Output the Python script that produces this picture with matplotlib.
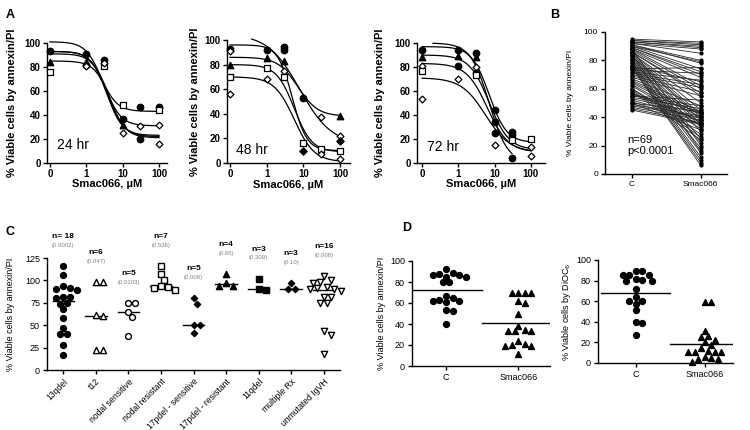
import numpy as np
import matplotlib
matplotlib.use('Agg')
import matplotlib.pyplot as plt

plt.rcParams['font.family'] = ['Liberation Sans', 'DejaVu Sans']

# ---------------- data ----------------
# Panel A: dose-response (dose in uM, 0 = untreated)
a24_dose = [0, 0, 0, 1, 1, 1, 1, 3, 3, 3, 10, 10, 10, 10, 30, 30, 30, 100, 100, 100, 100]
a24_val = [93, 84, 76, 91, 84, 82, 81, 86, 81, 83, 48, 37, 32, 25, 47, 31, 20, 47, 44, 32, 16]
a24_mark = ['o', '^', 's', 'o', '^', 'o', 'D', 'o', 's', 'D', 's', 'o', '^', 'D', 'o', 'D', 'o', 'o', 's', 'D', 'D']
# fitted curves: top, bottom, logEC50, hill, start(log), end(log)
a24_top = [101, 93, 93, 91, 85]
a24_bottom = [43, 31, 23, 22, 21]
a24_logec = [0.40, 0.53, 0.56, 0.60, 0.66]
a24_hill = [2.0, 2.0, 2.0, 2.0, 2.0]
a24_start = [-1, -1, -1, -1, -1]
a24_end = [2, 2, 2, 2, 2]

a48_dose = [0, 0, 0, 0, 0, 1, 1, 1, 1, 3, 3, 3, 3, 3, 10, 10, 10, 30, 30, 30, 100, 100, 100, 100, 100]
a48_val = [93, 91, 80, 70, 56, 92, 85, 77, 68, 94, 92, 83, 75, 70, 53, 16, 10, 37, 11, 7, 38, 22, 18, 10, 3]
a48_mark = ['o', 'D', '^', 's', 'D', 'o', '^', 's', 'D', 'o', 'o', '^', 'D', 's', 'o', 's', 'd', 'D', 's', 'D', '^', 'D', 'd', 's', 'D']
a48_top = [105, 96, 86, 80, 70]
a48_bottom = [15, 10, 38, 9, 1]
a48_logec = [0.90, 0.70, 0.85, 0.75, 0.75]
a48_hill = [1.0, 2.2, 1.6, 1.8, 1.6]
a48_start = [-0.41, -1, -1, -1, -1]
a48_end = [2, 2, 2, 2, 2]

a72_dose = [0, 0, 0, 0, 0, 1, 1, 1, 1, 3, 3, 3, 3, 3, 10, 10, 10, 10, 30, 30, 30, 30, 100, 100, 100]
a72_val = [94, 88, 81, 77, 53, 94, 89, 81, 70, 92, 88, 80, 75, 73, 44, 34, 25, 15, 26, 23, 19, 4, 20, 13, 6]
a72_mark = ['o', '^', 'D', 's', 'D', 'o', '^', 'o', 'D', 'o', '^', 'D', 'o', 's', 'o', 'o', 'o', 'D', 'o', 'o', 's', 'o', 's', 'D', 'D']
a72_top = [100, 97, 90, 83, 71]
a72_bottom = [0, 17, 11, 9, 9]
a72_logec = [0.85, 0.85, 0.85, 0.80, 0.75]
a72_hill = [1.7, 1.8, 1.6, 1.5, 1.3]
a72_start = [-0.70, -1, -1, -1, -1]
a72_end = [1.48, 2, 2, 2, 2]

a_ticklabels = ['0', '1', '10', '100']

# Panel B: paired control vs Smac066 (n=69)
b_control = [95, 94, 94, 93, 93, 92, 92, 91, 91, 90,
             90, 89, 89, 88, 88, 87, 86, 86, 85, 85,
             84, 83, 83, 82, 81, 80, 80, 79, 78, 78,
             77, 76, 75, 75, 74, 73, 72, 71, 70, 69,
             68, 67, 66, 65, 64, 63, 62, 60, 60, 59,
             58, 57, 56, 55, 55, 54, 53, 52, 51, 50,
             50, 49, 48, 47, 46, 45, 88, 84, 76]
b_smac = [93, 92, 91, 90, 89, 88, 85, 80, 78, 79,
          74, 72, 70, 68, 62, 60, 57, 55, 50, 45,
          42, 40, 38, 35, 33, 30, 25, 22, 18, 15,
          12, 10, 8, 6, 75, 71, 66, 63, 61, 58,
          55, 48, 44, 42, 40, 36, 34, 32, 28, 26,
          24, 37, 44, 48, 52, 46, 43, 39, 35, 31,
          44, 41, 40, 38, 36, 35, 20, 16, 65]
b_categories = ['C', 'Smac066']

# Panel C: subgroups
c_categories = ['13qdel', 't12', 'nodal sensitive', 'nodal resistant',
                '17pdel - sensitive', '17pdel - resistant', '11qdel',
                'multiple Rx', 'unmutated IgVH']
c_13qdel = [116, 106, 91, 90, 89, 94, 81, 80, 82, 74, 75, 68, 58, 47, 40, 40, 28, 17]
c_t12 = [98, 98, 61, 60, 22, 22]
c_nodal_sens = [75, 75, 65, 59, 38]
c_nodal_res = [116, 107, 100, 94, 93, 92, 89]
c_17p_sens = [74, 80, 50, 50, 41]
c_17p_res = [107, 97, 94, 94]
c_11qdel = [102, 89, 90]
c_multiple = [97, 90, 90]
c_unmutated = [105, 101, 98, 97, 93, 90, 91, 90, 88, 82, 81, 75, 75, 43, 39, 18]
c_n_labels = ['n= 18', 'n=6', 'n=5', 'n=7', 'n=5', 'n=4', 'n=3', 'n=3', 'n=16']
c_p_labels = ['(0.0002)', '(0.047)', '(0.0103)', '(0.536)', '(0.008)', '(0.65)', '(0.309)', '(0.10)', '(0.008)']

# Panel D
d1_control = [92, 85, 88, 87, 85, 87, 89, 80, 80, 65, 62, 61, 62, 63, 67, 53, 52, 40]
d1_smac = [70, 70, 70, 70, 62, 60, 50, 38, 34, 33, 33, 33, 24, 20, 19, 19, 21, 11]
d2_control = [85, 82, 80, 80, 81, 89, 89, 85, 85, 72, 64, 60, 57, 60, 51, 40, 39, 27]
d2_smac = [59, 59, 31, 26, 25, 22, 20, 17, 15, 12, 11, 11, 11, 11, 6, 5, 4, 4, 1]
d_categories = ['C', 'Smac066']

# ---------------- figure ----------------
W, H = 750, 430
fig = plt.figure(figsize=(7.5, 4.3), dpi=100)


def ax_px(l, t, r, b):
    return fig.add_axes([l / W, 1 - b / H, (r - l) / W, (b - t) / H])


def style(ax, fs, bold=False, pad=2):
    for s in ['top', 'right']:
        ax.spines[s].set_visible(False)
    for s in ['left', 'bottom']:
        ax.spines[s].set_linewidth(1.0)
    ax.tick_params(direction='out', length=3, width=1, labelsize=fs, pad=pad)
    if bold:
        for lab in ax.get_xticklabels() + ax.get_yticklabels():
            lab.set_fontweight('bold')


def logpos(d):
    d = np.asarray(d, dtype=float)
    out = np.full(d.shape, -1.0)
    m = d > 0
    out[m] = np.log10(d[m])
    return out


def mk_style(m):
    if m == 'o':
        return dict(marker='o', s=22, facecolor='black', edgecolor='black')
    if m == '^':
        return dict(marker='^', s=22, facecolor='black', edgecolor='black')
    if m == 's':
        return dict(marker='s', s=20, facecolor='white', edgecolor='black')
    if m == 'D':
        return dict(marker='D', s=12, facecolor='white', edgecolor='black')
    if m == 'd':
        return dict(marker='D', s=14, facecolor='black', edgecolor='black')
    return dict(marker=m, s=20, facecolor='black', edgecolor='black')


def panel_a(rect, xlim, dose, val, mark, top, bot, ec, hill, start, end, label, labxy, ylab_x):
    ax = ax_px(*rect)
    xs = logpos(dose)
    for x, y, m in zip(xs, val, mark):
        ax.scatter([x], [y], linewidths=0.9, zorder=3, clip_on=False, **mk_style(m))
    for t, b, e, h, s0, s1 in zip(top, bot, ec, hill, start, end):
        xx = np.linspace(s0, s1, 200)
        yy = b + (t - b) / (1 + 10 ** (h * (xx - e)))
        ax.plot(xx, yy, color='black', lw=0.9, clip_on=False, zorder=2)
    ax.set_xlim(*xlim)
    ax.set_ylim(0, 100)
    ax.set_xticks([-1, 0, 1, 2])
    ax.set_xticklabels(a_ticklabels)
    ax.set_yticks([0, 20, 40, 60, 80, 100])
    style(ax, 7, bold=True, pad=1.5)
    ax.set_ylabel('% Viable cells by annexin/PI', fontsize=8, fontweight='bold')
    ax.yaxis.set_label_coords(ylab_x, 0.5)
    ax.set_xlabel('Smac066, \u00b5M', fontsize=8, fontweight='bold')
    ax.xaxis.set_label_coords(0.5, -0.135)
    ax.text(labxy[0], labxy[1], label, transform=ax.transAxes, fontsize=10, va='center', ha='left')
    return ax


panel_a((47, 43, 167, 163), (-1.08, 2.22), a24_dose, a24_val, a24_mark, a24_top, a24_bottom,
        a24_logec, a24_hill, a24_start, a24_end, '24 hr', (0.085, 0.15), -0.25)
panel_a((227, 40, 350, 163), (-1.08, 2.27), a48_dose, a48_val, a48_mark, a48_top, a48_bottom,
        a48_logec, a48_hill, a48_start, a48_end, '48 hr', (0.07, 0.105), -0.22)
panel_a((417, 43, 545, 163), (-1.14, 2.39), a72_dose, a72_val, a72_mark, a72_top, a72_bottom,
        a72_logec, a72_hill, a72_start, a72_end, '72 hr', (0.078, 0.13), -0.25)

# ---- Panel B ----
axb = ax_px(605, 32, 727, 174)
for c, s in zip(b_control, b_smac):
    axb.plot([0, 1], [c, s], color='#2a2a2a', lw=0.6, zorder=2)
axb.scatter(np.zeros(len(b_control)), b_control, s=4, color='black', zorder=3)
axb.scatter(np.ones(len(b_smac)), b_smac, s=4, color='black', zorder=3)
axb.set_xlim(-0.39, 1.38)
axb.set_ylim(0, 100)
axb.set_xticks([0, 1])
axb.set_xticklabels(b_categories)
axb.set_yticks([0, 20, 40, 60, 80, 100])
style(axb, 6)
axb.set_ylabel('% Viable cells by annexin/PI', fontsize=6)
axb.yaxis.set_label_coords(-0.25, 0.5)
axb.text(-0.06, 20, 'n=69\np<0.0001', fontsize=8, ha='left', va='center', linespacing=1.1)


def beeswarm(vals, xpx, ypx, diam):
    """horizontal offsets (data units) so markers of diameter diam px do not overlap"""
    vals = np.asarray(vals, dtype=float)
    order = np.argsort(-vals, kind='stable')
    step = diam * 0.55
    cands = [0.0]
    for k in range(1, 30):
        cands += [k * step, -k * step]
    placed = []
    offs = np.zeros(len(vals))
    for i in order:
        y = vals[i] * ypx
        for c in cands:
            if all((c - px) ** 2 + (y - py) ** 2 >= diam ** 2 for px, py in placed):
                placed.append((c, y))
                offs[i] = c / xpx
                break
    return offs


# ---- Panel C ----
axc = ax_px(47, 258, 340, 370)
c_groups = [c_13qdel, c_t12, c_nodal_sens, c_nodal_res, c_17p_sens, c_17p_res, c_11qdel, c_multiple, c_unmutated]
c_marks = [dict(marker='o', facecolor='black', s=18),
           dict(marker='^', facecolor='white', s=20),
           dict(marker='o', facecolor='white', s=18),
           dict(marker='s', facecolor='white', s=18),
           dict(marker='D', facecolor='black', s=10),
           dict(marker='^', facecolor='black', s=20),
           dict(marker='s', facecolor='black', s=18),
           dict(marker='D', facecolor='black', s=10),
           dict(marker='v', facecolor='white', s=20)]
for i, (g, mk) in enumerate(zip(c_groups, c_marks)):
    offs = beeswarm(g, 32.6, 0.893, 6.3)
    axc.scatter(i + offs, g, edgecolor='black', linewidths=1.0, zorder=3, clip_on=False, **mk)
    med = np.median(g)
    axc.plot([i - 0.33, i + 0.33], [med, med], color='black', lw=1.0, zorder=2)
    top = max(g) + 23
    axc.text(i, top + 10, c_n_labels[i], ha='center', va='center', fontsize=6, fontweight='bold')
    axc.text(i, top, c_p_labels[i], ha='center', va='center', fontsize=4.3, color='#808080')
axc.set_xlim(-0.5, 8.5)
axc.set_ylim(0, 125)
axc.set_yticks([0, 25, 50, 75, 100, 125])
axc.set_xticks(range(len(c_categories)))
axc.set_xticklabels(c_categories, rotation=45, ha='right', rotation_mode='anchor')
style(axc, 6.5)
for lab in axc.get_xticklabels():
    lab.set_fontsize(6.2)
axc.set_ylabel('% Viable cells by annexin/PI', fontsize=6.5)
axc.yaxis.set_label_coords(-0.11, 0.5)


# ---- Panel D ----
def panel_d(rect, xlim, ctrl, smac, ylabel, ylab_x, xpx, ypx):
    ax = ax_px(*rect)
    o1 = beeswarm(ctrl, xpx, ypx, 6.0)
    o2 = beeswarm(smac, xpx, ypx, 6.0)
    ax.scatter(0 + o1, ctrl, marker='o', s=18, color='black', zorder=3, clip_on=False)
    ax.scatter(1 + o2, smac, marker='^', s=18, color='black', zorder=3, clip_on=False)
    for x, g in [(0, ctrl), (1, smac)]:
        m = np.mean(g)
        ax.plot([x - 0.5, x + 0.5], [m, m], color='black', lw=1.0, zorder=2)
    ax.set_xlim(*xlim)
    ax.set_ylim(0, 100)
    ax.set_yticks([0, 20, 40, 60, 80, 100])
    ax.set_xticks([0, 1])
    ax.set_xticklabels(d_categories)
    style(ax, 6.5)
    ax.set_ylabel(ylabel, fontsize=6.5)
    ax.yaxis.set_label_coords(ylab_x, 0.5)
    return ax


panel_d((412, 261, 550, 366), (-0.47, 1.44), d1_control, d1_smac, '% Viable cells by annexin/PI', -0.19, 72, 1.05)
panel_d((598, 260, 733, 363), (-0.55, 1.41), d2_control, d2_smac, '% Viable cells by DiOC$_6$', -0.185, 69, 1.03)

# panel letters
for txt, x, y in [('A', 10, 15), ('B', 555, 15), ('C', 10, 232), ('D', 407, 228)]:
    fig.text(x / W, 1 - y / H, txt, fontsize=9, fontweight='bold', ha='center', va='center')

fig.savefig('out.png', dpi=100)
